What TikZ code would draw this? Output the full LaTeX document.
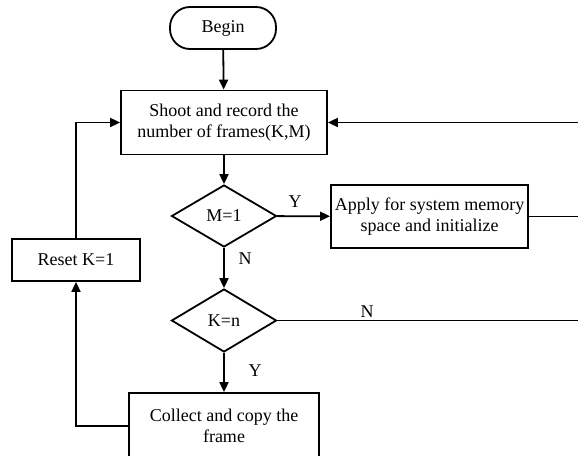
\documentclass[tikz,border=0pt]{standalone}
\usepackage{fontspec}
\setmainfont{Liberation Serif}
\usetikzlibrary{arrows.meta,shapes.geometric}
\begin{document}
\begin{tikzpicture}[x=1pt,y=-1pt,line width=1.8pt,
  >={Triangle[length=10pt,width=9pt]},
  font=\fontsize{18}{21}\selectfont,
  box/.style={draw,rectangle,align=center,inner sep=0pt},
  decision/.style={draw,diamond,inner sep=0pt,align=center},
  lbl/.style={inner sep=0pt}]
\useasboundingbox (0,0) rectangle (578,455);
\clip (0,0) rectangle (578,455);
\node[box,rounded corners=20pt,minimum width=106pt,minimum height=42pt] (begin) at (223,28) {Begin};
\node[box,minimum width=206pt,minimum height=64pt] (shoot) at (224,122.5) {Shoot and record the\\number of frames(K,M)};
\node[decision,minimum width=105pt,minimum height=62pt] (m1) at (224,216) {M=1};
\node[box,minimum width=197pt,minimum height=63pt] (apply) at (429.5,216.5) {Apply for system memory\\space and initialize};
\node[box,minimum width=128pt,minimum height=42pt] (reset) at (76,260) {Reset K=1};
\node[decision,minimum width=105pt,minimum height=63pt] (kn) at (224,320.5) {K=n};
\node[box,minimum width=190pt,minimum height=66pt] (collect) at (224,426) {Collect and copy the\\frame};
\coordinate (r1) at (592,216.5);
\coordinate (r2) at (592,320.5);
\coordinate (r3) at (592,122.5);
\node[lbl] (y1) at (295,202) {Y};
\node[lbl] (n1) at (245,259) {N};
\node[lbl] (n2) at (367,312) {N};
\node[lbl] (y2) at (255,371) {Y};
\draw[->] (begin) -- (shoot);
\draw[->] (shoot) -- (m1);
\draw[->] (m1) -- (apply);
\draw[->] (m1) -- (kn);
\draw[->] (kn) -- (collect);
\draw (apply.east) -- (r1);
\draw (kn.east) -- (r2);
\draw[->] (r3) -- (shoot.east);
\draw[->] (collect.west) -| (reset.south);
\draw[->] (reset.north) |- (shoot.west);
\end{tikzpicture}
\end{document}
